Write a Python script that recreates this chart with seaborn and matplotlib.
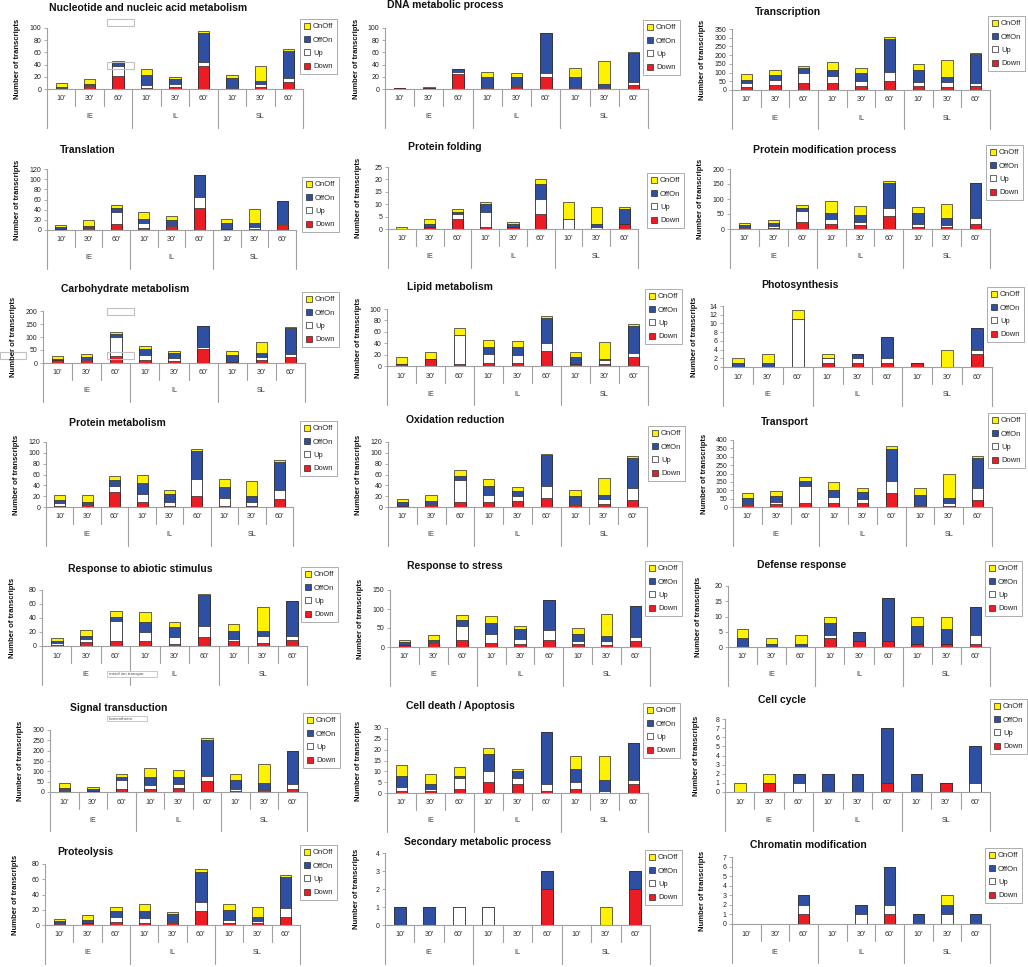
"""Stacked transcript counts per GO category, IE / IL / SL at 10', 30', 60'."""
import numpy as np
import matplotlib
matplotlib.use("Agg")
import matplotlib.pyplot as plt
from matplotlib.patches import Patch, Rectangle
import seaborn as sns

sns.set_theme(style="white")
plt.rcParams["font.family"] = ["Liberation Sans", "DejaVu Sans"]

GROUPS = ["IE", "IL", "SL"]
TIMES = ["10'", "30'", "60'"]
BARS = [f"{g} {t}" for g in GROUPS for t in TIMES]

TITLES = [
    "Nucleotide and nucleic acid metabolism", "DNA metabolic process", "Transcription",
    "Translation", "Protein folding", "Protein modification process",
    "Carbohydrate metabolism", "Lipid metabolism", "Photosynthesis",
    "Protein metabolism", "Oxidation reduction", "Transport",
    "Response to abiotic stimulus", "Response to stress", "Defense response",
    "Signal transduction", "Cell death / Apoptosis", "Cell cycle",
    "Proteolysis", "Secondary metabolic process", "Chromatin modification",
]
Y_MAX = [100, 100, 350, 120, 25, 200, 200, 100, 14, 120, 120, 400, 80, 150, 20, 300, 30, 8, 80, 4, 7]
Y_STEP = [20, 20, 50, 20, 5, 50, 50, 20, 2, 20, 20, 50, 20, 50, 5, 50, 5, 1, 20, 1, 1]

# bar order: IE 10/30/60, IL 10/30/60, SL 10/30/60
DOWN = {
    "Nucleotide and nucleic acid metabolism": [0, 5, 22, 2, 4, 37, 0, 4, 11],
    "DNA metabolic process": [1, 2, 25, 2, 3, 20, 2, 2, 7],
    "Transcription": [15, 29, 42, 42, 25, 52, 23, 19, 23],
    "Translation": [1, 4, 12, 3, 8, 44, 1, 1, 9],
    "Protein folding": [0, 1, 4, 1, 1, 6, 0, 0, 2],
    "Protein modification process": [3, 5, 25, 18, 12, 42, 8, 7, 17],
    "Carbohydrate metabolism": [12, 13, 28, 13, 9, 54, 3, 11, 22],
    "Lipid metabolism": [3, 12, 4, 5, 5, 26, 3, 3, 15],
    "Photosynthesis": [0, 0, 0, 1, 1, 1, 1, 0, 3],
    "Protein metabolism": [2, 4, 28, 10, 2, 21, 1, 1, 15],
    "Oxidation reduction": [1, 4, 10, 9, 12, 17, 3, 5, 13],
    "Transport": [12, 18, 22, 24, 22, 82, 8, 8, 42],
    "Response to abiotic stimulus": [2, 6, 7, 7, 3, 13, 7, 5, 9],
    "Response to stress": [4, 11, 19, 11, 9, 19, 9, 5, 15],
    "Defense response": [0, 0, 0, 3, 2, 2, 1, 1, 1],
    "Signal transduction": [6, 3, 16, 16, 18, 52, 6, 10, 16],
    "Cell death / Apoptosis": [1, 1, 2, 5, 4, 1, 2, 0, 4],
    "Cell cycle": [0, 1, 0, 0, 0, 1, 0, 1, 0],
    "Proteolysis": [1, 2, 4, 3, 2, 18, 3, 2, 10],
    "Secondary metabolic process": [0, 0, 0, 0, 0, 2, 0, 0, 2],
    "Chromatin modification": [0, 0, 1, 0, 0, 1, 0, 0, 0],
}
UP = {
    "Nucleotide and nucleic acid metabolism": [1, 1, 15, 5, 4, 8, 1, 4, 7],
    "DNA metabolic process": [0, 0, 3, 2, 2, 7, 2, 1, 5],
    "Transcription": [27, 29, 54, 39, 29, 54, 25, 29, 19],
    "Translation": [1, 2, 23, 11, 2, 21, 1, 4, 2],
    "Protein folding": [0, 0, 2, 6, 0, 6, 4, 1, 0],
    "Protein modification process": [3, 4, 34, 16, 13, 28, 9, 7, 19],
    "Carbohydrate metabolism": [1, 4, 73, 19, 10, 9, 1, 11, 12],
    "Lipid metabolism": [0, 0, 50, 16, 14, 14, 1, 8, 7],
    "Photosynthesis": [0, 0, 11, 1, 1, 1, 0, 0, 1],
    "Protein metabolism": [5, 2, 11, 14, 8, 31, 16, 8, 17],
    "Oxidation reduction": [1, 2, 39, 14, 8, 21, 2, 9, 23],
    "Transport": [4, 14, 106, 34, 26, 74, 6, 18, 74],
    "Response to abiotic stimulus": [2, 4, 29, 13, 10, 15, 3, 9, 6],
    "Response to stress": [2, 1, 36, 23, 13, 27, 6, 10, 11],
    "Defense response": [0, 0, 0, 1, 0, 0, 0, 0, 3],
    "Signal transduction": [2, 1, 41, 16, 19, 24, 10, 6, 24],
    "Cell death / Apoptosis": [2, 1, 5, 5, 3, 3, 3, 1, 2],
    "Cell cycle": [0, 0, 1, 0, 0, 0, 0, 0, 1],
    "Proteolysis": [1, 1, 6, 6, 2, 12, 3, 3, 12],
    "Secondary metabolic process": [0, 0, 1, 1, 0, 0, 0, 0, 0],
    "Chromatin modification": [0, 0, 1, 0, 1, 1, 0, 1, 0],
}
OFFON = {
    "Nucleotide and nucleic acid metabolism": [3, 2, 5, 16, 8, 47, 17, 5, 45],
    "DNA metabolic process": [0, 0, 5, 16, 15, 64, 16, 6, 47],
    "Transcription": [16, 27, 29, 31, 42, 186, 67, 27, 164],
    "Translation": [3, 2, 8, 8, 10, 43, 12, 8, 46],
    "Protein folding": [0, 1, 1, 3, 1, 6, 0, 1, 6],
    "Protein modification process": [8, 11, 11, 19, 23, 85, 38, 22, 119],
    "Carbohydrate metabolism": [2, 5, 9, 22, 19, 79, 28, 15, 99],
    "Lipid metabolism": [1, 1, 1, 13, 15, 44, 12, 2, 49],
    "Photosynthesis": [1, 1, 0, 0, 1, 5, 0, 0, 5],
    "Protein metabolism": [6, 4, 11, 20, 14, 51, 20, 11, 52],
    "Oxidation reduction": [8, 5, 8, 15, 9, 58, 15, 8, 55],
    "Transport": [36, 32, 26, 44, 40, 192, 58, 30, 176],
    "Response to abiotic stimulus": [3, 5, 6, 15, 14, 45, 12, 7, 50],
    "Response to stress": [8, 7, 15, 30, 26, 77, 18, 13, 82],
    "Defense response": [3, 1, 1, 4, 3, 14, 6, 5, 9],
    "Signal transduction": [13, 9, 16, 41, 36, 175, 44, 28, 158],
    "Cell death / Apoptosis": [5, 2, 1, 8, 3, 24, 6, 5, 17],
    "Cell cycle": [0, 0, 1, 2, 2, 6, 2, 0, 4],
    "Proteolysis": [3, 4, 8, 10, 11, 40, 14, 5, 41],
    "Secondary metabolic process": [1, 1, 0, 0, 0, 1, 0, 0, 1],
    "Chromatin modification": [0, 0, 1, 0, 1, 4, 1, 1, 1],
}
ONOFF = {
    "Nucleotide and nucleic acid metabolism": [6, 9, 4, 10, 4, 3, 5, 25, 3],
    "DNA metabolic process": [1, 1, 0, 8, 7, 1, 14, 37, 1],
    "Transcription": [34, 30, 13, 48, 33, 10, 33, 95, 6],
    "Translation": [5, 12, 7, 13, 7, 1, 8, 29, 0],
    "Protein folding": [1, 2, 1, 1, 1, 2, 7, 7, 1],
    "Protein modification process": [6, 11, 11, 41, 29, 6, 17, 48, 0],
    "Carbohydrate metabolism": [13, 12, 10, 12, 9, 1, 15, 45, 4],
    "Lipid metabolism": [11, 12, 12, 11, 9, 3, 8, 29, 2],
    "Photosynthesis": [1, 2, 2, 1, 0, 0, 0, 4, 0],
    "Protein metabolism": [9, 12, 7, 16, 7, 4, 15, 28, 3],
    "Oxidation reduction": [5, 11, 11, 14, 8, 1, 12, 31, 4],
    "Transport": [30, 32, 28, 50, 28, 14, 40, 140, 14],
    "Response to abiotic stimulus": [4, 8, 8, 13, 7, 2, 9, 35, 0],
    "Response to stress": [5, 12, 13, 17, 7, 2, 17, 58, 0],
    "Defense response": [3, 2, 3, 2, 0, 0, 3, 4, 0],
    "Signal transduction": [24, 11, 15, 44, 34, 10, 29, 92, 0],
    "Cell death / Apoptosis": [5, 5, 4, 3, 1, 0, 6, 11, 0],
    "Cell cycle": [1, 1, 0, 0, 0, 0, 0, 0, 0],
    "Proteolysis": [3, 6, 5, 9, 2, 4, 7, 14, 3],
    "Secondary metabolic process": [0, 0, 0, 0, 0, 0, 0, 1, 0],
    "Chromatin modification": [0, 0, 0, 0, 0, 0, 0, 1, 0],
}

COLORS = {"Down": "#ec1c24", "Up": "#ffffff", "OffOn": "#2f4fa2", "OnOff": "#fff200"}
EDGE = "#2a2a2a"
LINE = "#a0a0a0"

# layout in reference pixels: plot box (left, right, top, bottom), title centre, legend corner
PLOT_BOX = [
    (47, 303, 28, 89), (385, 648, 28, 89), (732, 990, 29, 90),
    (47, 296, 169, 230), (388, 638, 167, 229), (730, 990, 169, 229),
    (43, 305, 311, 363), (387, 648, 309, 366), (723, 992, 306, 367),
    (46, 293, 442, 507), (388, 647, 442, 507), (733, 992, 440, 507),
    (42, 307, 590, 646), (390, 650, 590, 647), (728, 990, 586, 647),
    (50, 307, 730, 792), (387, 648, 728, 793), (725, 990, 719, 792),
    (45, 300, 864, 925), (385, 650, 853, 925), (732, 990, 857, 924),
]
TITLE_XY = [
    (148, 8), (445, 5), (788, 12),
    (88, 150), (445, 147), (825, 150),
    (125, 289), (450, 287), (800, 285),
    (117, 423), (455, 420), (785, 422),
    (140, 569), (455, 566), (802, 565),
    (119, 708), (460, 706), (782, 700),
    (85, 852), (478, 842), (808, 845),
]
LEGEND_XY = [
    (300, 19), (643, 20), (988, 16),
    (302, 177), (647, 173), (986, 145),
    (302, 292), (645, 289), (987, 287),
    (300, 421), (648, 426), (988, 413),
    (301, 567), (645, 561), (985, 561),
    (303, 713), (643, 703), (990, 699),
    (300, 845), (645, 850), (985, 848),
]

W, H = 1028, 967


def main() -> None:
    fig = plt.figure(figsize=(W / 100, H / 100), dpi=100)
    fig.patch.set_facecolor("white")

    handles = [Patch(facecolor=COLORS[n], edgecolor=EDGE, linewidth=0.5, label=n)
               for n in ["OnOff", "OffOn", "Up", "Down"]]

    for i, title in enumerate(TITLES):
        l, r, t, b = PLOT_BOX[i]
        ax = fig.add_axes([l / W, 1 - b / H, (r - l) / W, (b - t) / H])
        d = np.array(DOWN[title])
        u = np.array(UP[title])
        o = np.array(OFFON[title])
        n = np.array(ONOFF[title])
        # cumulative layers drawn back to front
        layers = [("OnOff", d + u + o + n), ("OffOn", d + u + o), ("Up", d + u), ("Down", d)]
        for name, vals in layers:
            sns.barplot(x=BARS, y=vals, order=BARS, color=COLORS[name], saturation=1,
                        width=0.4, edgecolor=EDGE, linewidth=0.5, errorbar=None, ax=ax)
        ax.set_xlim(-0.5, 8.5)
        ax.set_ylim(0, Y_MAX[i])
        ax.set_yticks(np.arange(0, Y_MAX[i] + Y_STEP[i] / 2, Y_STEP[i]))
        ax.set_xticks([])
        ax.set_xlabel("")
        ax.set_ylabel("")
        ax.set_facecolor("none")
        for s in ["top", "right"]:
            ax.spines[s].set_visible(False)
        for s in ["left", "bottom"]:
            ax.spines[s].set_color(LINE)
            ax.spines[s].set_linewidth(0.8)
        ax.tick_params(axis="y", left=True, length=2.5, width=0.6, color=LINE, pad=1.5,
                       labelsize=5, labelcolor="#222222")

        # two-level category axis below the bars
        tb = fig.add_axes([l / W, 1 - (b + 39) / H, (r - l) / W, 39 / H])
        tb.set_xlim(-0.5, 8.5)
        tb.set_ylim(-39, 0)
        tb.axis("off")
        for k in range(10):
            depth = 39 if k % 3 == 0 else 17
            tb.plot([k - 0.5, k - 0.5], [0, -depth], color=LINE, lw=0.8, clip_on=False)
        for k in range(9):
            tb.text(k, -10, TIMES[k % 3], ha="center", va="center", fontsize=5.2, color="#333333")
        for g, name in enumerate(GROUPS):
            tb.text(3 * g + 1, -28, name, ha="center", va="center", fontsize=5.2, color="#333333")

        cx, cy = TITLE_XY[i]
        fig.text(cx / W, 1 - cy / H, title, ha="center", va="center",
                 fontsize=7.5, fontweight="bold", color="#111111")
        fig.text((l - 29) / W, 1 - ((t + b) / 2) / H, "Number of transcripts", rotation=90,
                 ha="center", va="center", fontsize=5.5, fontweight="bold", color="#111111")

        lx, ly = LEGEND_XY[i]
        lx = min(lx, W - 38)
        leg = ax.legend(handles=handles, loc="upper left", bbox_to_anchor=(lx / W, 1 - ly / H),
                        bbox_transform=fig.transFigure, fontsize=5.5, frameon=True, fancybox=False,
                        edgecolor=LINE, facecolor="white", framealpha=1, borderpad=0.5,
                        labelspacing=0.75, handlelength=0.8, handleheight=0.8,
                        handletextpad=0.4, borderaxespad=0)
        leg.get_frame().set_linewidth(0.6)

    # stray empty text boxes left in the original figure
    for x0, y0, x1, y1 in [(107, 19, 134, 26), (107, 62, 134, 69), (107, 308, 134, 315),
                           (107, 352, 134, 359), (0, 352, 26, 359)]:
        fig.add_artist(Rectangle((x0 / W, 1 - y1 / H), (x1 - x0) / W, (y1 - y0) / H,
                                 transform=fig.transFigure, facecolor="none",
                                 edgecolor="#c0c0c0", linewidth=0.8))
    for x0, y0, x1, y1, txt in [(107, 671, 157, 677, "metal ion transpor"),
                                (107, 716, 147, 721, "homeotherm")]:
        fig.add_artist(Rectangle((x0 / W, 1 - y1 / H), (x1 - x0) / W, (y1 - y0) / H,
                                 transform=fig.transFigure, facecolor="white",
                                 edgecolor="#c0c0c0", linewidth=0.6))
        fig.text((x0 + 2) / W, 1 - ((y0 + y1) / 2) / H, txt, ha="left", va="center",
                 fontsize=3.2, color="#555555")

    fig.savefig("out.png", dpi=100)
    plt.close(fig)


if __name__ == "__main__":
    main()
